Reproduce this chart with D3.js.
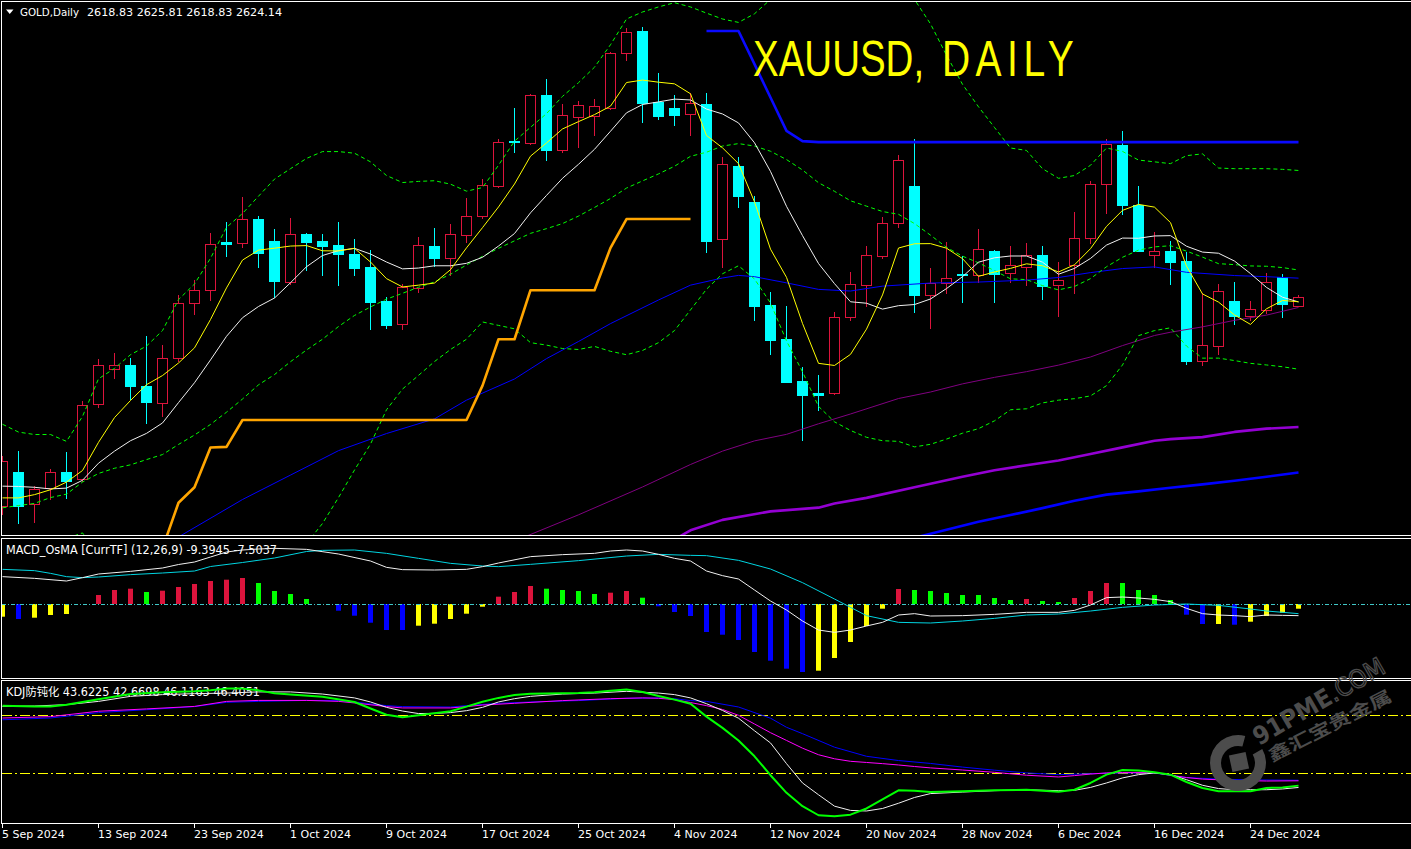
<!DOCTYPE html>
<html><head><meta charset="utf-8">
<script src="https://cdn.jsdelivr.net/npm/d3@7"></script>
<style>html,body{margin:0;padding:0;background:#000;overflow:hidden}</style>
</head><body>
<svg id="c" width="1411" height="849"></svg>
<script>
// ---------- DATA ----------
const tickLabels = ["5 Sep 2024","13 Sep 2024","23 Sep 2024","1 Oct 2024","9 Oct 2024","17 Oct 2024","25 Oct 2024","4 Nov 2024","12 Nov 2024","20 Nov 2024","28 Nov 2024","6 Dec 2024","16 Dec 2024","24 Dec 2024"];
const tickIdx = [0,6,12,18,24,30,36,42,48,54,60,66,72,78];

const open = [2495.9,2516.6,2497.0,2506.9,2516.6,2512.4,2558.5,2580.1,2582.4,2569.5,2559.3,2586.8,2620.4,2628.5,2657.8,2657.2,2672.2,2658.7,2633.3,2662.9,2658.7,2656.4,2650.7,2642.8,2621.9,2607.5,2629.7,2655.7,2648.1,2662.3,2674.3,2692.5,2720.2,2718.7,2748.3,2714.7,2735.0,2735.2,2740.5,2773.9,2787.6,2744.1,2740.3,2736.5,2742.8,2659.7,2704.6,2682.6,2619.4,2598.4,2572.9,2565.5,2565.3,2612.0,2631.8,2649.8,2669.5,2692.5,2625.3,2632.7,2638.4,2637.6,2652.4,2639.2,2642.6,2650.2,2631.6,2643.7,2660.8,2693.6,2717.7,2680.9,2650.4,2652.6,2646.4,2585.3,2594.4,2621.9,2612.8,2616.2,2636.7,2618.83];
const high = [2527.0,2529.7,2508.0,2518.8,2529.3,2560.4,2586.4,2590.0,2586.8,2600.6,2594.6,2625.3,2634.6,2663.8,2670.1,2685.7,2673.9,2666.1,2672.9,2663.8,2662.9,2670.3,2660.0,2653.2,2624.4,2632.1,2661.2,2666.7,2669.3,2685.1,2696.7,2721.3,2740.3,2749.0,2758.3,2742.8,2744.7,2746.0,2774.5,2789.3,2790.2,2761.9,2748.3,2749.8,2749.6,2710.3,2710.3,2686.2,2627.4,2618.5,2581.3,2576.7,2615.1,2639.7,2655.9,2673.5,2711.5,2721.1,2642.2,2657.8,2649.4,2666.1,2653.0,2655.5,2657.4,2655.7,2645.6,2676.4,2695.5,2721.5,2726.3,2692.5,2664.2,2658.7,2652.1,2626.6,2632.3,2633.5,2621.9,2639.0,2638.4,2625.81];
const low = [2491.0,2485.4,2486.0,2500.1,2501.2,2511.1,2556.6,2574.8,2561.5,2547.1,2551.3,2585.1,2613.7,2622.3,2649.8,2654.9,2643.0,2624.4,2632.1,2641.1,2638.0,2631.8,2637.6,2604.4,2605.2,2604.4,2627.6,2643.3,2638.0,2658.3,2673.1,2691.9,2713.4,2718.3,2708.2,2713.5,2716.4,2723.8,2739.5,2770.1,2731.8,2733.3,2730.1,2724.0,2652.1,2642.8,2679.8,2610.5,2589.6,2572.0,2536.7,2554.7,2565.0,2610.5,2618.5,2648.5,2667.6,2615.4,2605.2,2627.0,2621.1,2633.7,2621.5,2633.7,2631.8,2623.4,2612.8,2627.0,2657.6,2675.6,2675.2,2652.4,2642.8,2632.3,2583.4,2582.6,2589.6,2608.0,2609.9,2614.7,2611.8,2618.83];
const close = [2523.4,2495.9,2506.5,2516.6,2511.6,2558.3,2582.4,2582.4,2569.5,2559.8,2586.6,2620.9,2628.5,2656.6,2657.0,2672.0,2651.5,2634.4,2663.3,2658.3,2655.9,2650.9,2642.4,2621.5,2607.3,2630.6,2656.4,2648.5,2662.9,2673.9,2692.9,2719.6,2719.4,2748.1,2714.5,2735.8,2742.0,2741.3,2773.9,2786.8,2743.7,2735.4,2736.3,2743.2,2658.9,2705.8,2686.6,2619.0,2598.2,2572.4,2564.4,2564.2,2612.2,2632.1,2650.0,2669.5,2708.2,2625.3,2632.7,2635.9,2637.6,2653.6,2638.6,2643.9,2650.0,2631.2,2634.6,2660.6,2693.6,2718.3,2680.5,2652.8,2652.4,2645.8,2585.1,2594.9,2627.8,2612.8,2616.8,2633.3,2620.2,2624.14];

const ma5 = [2501,2501,2503,2506,2510.7,2517.8,2535.1,2550.3,2560.8,2570.5,2576.1,2583.8,2593.1,2610.5,2629.9,2647.0,2653.1,2654.3,2655.6,2655.9,2652.7,2652.6,2654.2,2645.8,2635.6,2630.5,2631.6,2632.9,2641.1,2654.5,2666.9,2679.6,2693.7,2710.8,2718.9,2727.5,2732.0,2736.3,2741.5,2756.0,2757.5,2756.2,2755.2,2749.1,2723.5,2715.9,2706.2,2682.7,2653.7,2636.4,2608.1,2583.6,2582.3,2589.1,2604.6,2625.6,2654.4,2657.0,2657.1,2654.3,2647.9,2637.0,2639.7,2641.9,2644.7,2643.5,2639.7,2644.1,2654.0,2667.7,2677.5,2681.2,2679.5,2670.0,2643.3,2626.2,2621.2,2613.3,2607.5,2617.1,2622.2,2621.4];
const ma10 = [2508.2,2508.0,2507.5,2506.5,2507.0,2511.8,2522.3,2529.7,2536.1,2540.6,2547.0,2559.5,2571.7,2585.7,2600.2,2611.6,2618.5,2623.7,2633.1,2642.9,2649.8,2652.8,2654.2,2650.7,2645.8,2641.6,2642.1,2643.5,2643.5,2645.0,2648.7,2655.6,2663.3,2676.0,2686.7,2697.2,2705.8,2715.0,2726.1,2737.4,2742.5,2744.1,2745.8,2745.3,2739.7,2736.7,2731.2,2719.0,2701.4,2680.0,2662.0,2644.9,2632.5,2621.4,2620.5,2616.9,2619.0,2619.7,2623.1,2629.5,2636.8,2645.7,2648.4,2649.5,2649.5,2645.7,2638.3,2641.9,2648.0,2656.2,2660.5,2660.4,2661.8,2662.0,2655.5,2651.9,2651.2,2646.4,2638.7,2630.2,2624.2,2621.3];
const bbUpper = [2546.2,2541.4,2539.9,2539.9,2535.7,2551.0,2574.1,2580.5,2588.9,2594.2,2603.7,2622.7,2632.3,2648.1,2667.1,2675.6,2686.2,2696.7,2703.1,2709.4,2713.6,2713.6,2712.6,2707.3,2698.9,2694.6,2695.3,2695.7,2693.6,2689.3,2691.5,2705.2,2720.0,2728.5,2736.9,2747.5,2755.9,2765.4,2779.2,2795.0,2799.3,2802.4,2805.0,2802.4,2798.6,2795.0,2792.9,2798.2,2807,2820,2826,2832,2831,2824,2822,2818,2814,2807,2792,2772.8,2754.9,2741.1,2728.4,2715.8,2714.3,2703.1,2697.2,2698.9,2705.2,2715.8,2713.7,2708.4,2707.3,2706.2,2711.1,2712.2,2703.5,2703.1,2703.1,2703.1,2702.7,2702.0];
const bbMid = [2494.9,2496.3,2497.6,2501.2,2503.3,2510.7,2516.0,2519.2,2521.3,2524.5,2527.6,2533.8,2539.6,2546.1,2553.6,2561.7,2570.4,2576.7,2584.6,2591.8,2598.4,2606.2,2613.0,2618.2,2623.0,2626.6,2630.3,2633.6,2638.3,2644.0,2649.3,2654.2,2658.8,2663.4,2666.3,2669.4,2674.0,2679.3,2684.8,2691.2,2695.6,2699.9,2704.6,2710.7,2713.2,2717.0,2718.5,2717.0,2713.8,2708.7,2702.3,2694.5,2689.2,2683.4,2680.1,2676.8,2675.1,2669.4,2662.3,2654.8,2649.4,2645.3,2640.5,2635.5,2635.0,2631.3,2628.7,2630.8,2635.6,2642.9,2648.7,2653.1,2655.1,2655.8,2652.5,2648.8,2644.8,2644.2,2643.4,2643.2,2642.4,2640.9];
const bbLower = [2444,2451,2458,2468,2476,2479.5,2466,2458,2454,2455,2456,2447,2448,2447,2443,2443,2445,2447,2456,2473,2485.3,2501.2,2518.1,2534.0,2555.1,2567.8,2576.2,2584.7,2592.1,2598.4,2609.0,2606.9,2604.8,2596.3,2594.8,2592.7,2592.1,2594.0,2591.0,2588.9,2591.5,2596.3,2603.7,2616.4,2629.1,2638.6,2643.5,2635.4,2620.6,2597.4,2578.4,2557.2,2547.7,2542.4,2538.2,2536.1,2535.7,2532.3,2533.9,2537.1,2540.7,2543.5,2548.3,2555.1,2555.7,2559.3,2561.0,2561.9,2563.6,2569.9,2582.6,2600.6,2603.7,2605.4,2594.2,2586.8,2586.8,2585.3,2583.6,2582.6,2581.5,2580.0];

const blueMaIdx = [10,11,15,18,21,24,27,29,32,34,36,38,41,43,45,46,47,49,51,53,55,58,61,64,66,68,70,72,74,77,79,81];
const blueMaVal = [2472,2477,2500,2515,2530,2540.5,2549.5,2561,2574,2586.5,2597,2608,2622.5,2631.6,2636,2637.6,2636.8,2633,2629,2628,2631,2632.9,2633.5,2634.7,2636.3,2639.3,2641.8,2642.8,2639.5,2637.5,2636.8,2635.9];
const purpleThinIdx = [32,36,40,43,45,47,49,51,53,56,58,60,62,64,66,68,70,72,73,75,77,79,81];
const purpleThinVal = [2474.5,2490.6,2507.7,2521.5,2529.7,2536,2540,2546.5,2552.5,2562,2566,2571,2575,2578.5,2582.5,2587.5,2594.5,2600.7,2602.7,2606,2610,2613.2,2617.9];
const purpleThickIdx = [42,43,45,48,51,52,54,57,58,60,62,64,66,68,70,72,73,75,77,79,81];
const purpleThickVal = [2475.5,2481.1,2487.5,2492.7,2495,2497.5,2501.0,2507.5,2509.7,2514,2518,2521,2524,2528,2532,2536.1,2537.1,2538.3,2541.5,2543.5,2544.5];
const blueThickIdx = [57,59,61,63,65,67,69,71,73,75,77,79,81];
const blueThickVal = [2476.5,2481.5,2486.3,2490.5,2494.7,2499.2,2503.0,2505.0,2507.2,2509.3,2511.5,2514,2516.6];
const orangeIdx = [10,11,12,13,14,15,29,30,31,32,33,37,38,39,43];
const orangeVal = [2470,2498.0,2507.5,2531.9,2532.3,2548.8,2548.8,2569.9,2598.4,2598.4,2628.5,2628.5,2654.5,2672.2,2672.2];
const blueStepIdx = [44,46,47,48,49,50,51,81];
const blueStepVal = [2787.6,2787.6,2767.3,2746.8,2726.3,2720.0,2719.4,2719.4];

// MACD_OsMA panel
const osma = [-2.54,-3.0,-2.74,-2.2,-2.0,0,1.8,2.8,3.06,2.4,2.66,3.4,4.0,4.6,4.86,5.2,4.2,2.6,2.0,1.0,0,-1.34,-2.34,-3.74,-5.2,-5.2,-4.34,-3.94,-3.0,-1.94,-0.54,1.46,2.4,3.6,3.06,2.8,2.6,2.0,2.26,2.6,1.26,-0.46,-1.6,-2.4,-5.6,-6.14,-7.2,-9.6,-11.34,-12.94,-13.6,-13.34,-10.8,-7.6,-4.4,-0.94,3.0,2.8,2.6,2.2,1.8,1.8,1.2,0.8,1.0,0.6,0.4,1.2,2.6,4.2,4.2,2.8,1.8,0.8,-2.14,-4.0,-4.0,-4.14,-3.54,-2.4,-1.74,-0.94];
const osmaColor = ['y','b','y','y','y','r','r','r','r','g','r','r','r','r','r','r','g','g','g','g','g','b','b','b','b','b','y','y','y','y','y','r','r','r','g','g','g','g','r','r','g','b','b','b','b','b','b','b','b','b','b','y','y','y','y','y','r','g','g','g','g','g','g','g','r','g','g','r','r','r','g','g','g','g','b','b','y','b','y','y','y','y'];
const macdWhiteIdx = [0,2,4,5,6,8,10,11,12,13,14,15,16,17,19,21,23,24,25,27,29,30,31,33,35,37,38,39,40,41,42,43,44,45,46,47,48,49,50,51,52,53,54,55,56,57,58,60,62,64,66,67,68,69,70,71,72,73,74,75,76,77,78,79,80,81];
const macdWhiteVal = [5.47,5.13,4.6,5.27,6.0,6.53,7.2,7.9,8.4,9.4,10.4,10.8,11.0,11.13,10.93,10.0,8.6,7.33,6.87,6.8,6.93,7.47,8.2,9.47,9.87,10.13,10.6,10.8,10.6,9.93,9.13,8.6,6.6,5.67,5.0,2.8,0.6,-1.2,-3.4,-5.2,-5.67,-5.2,-4.4,-3.67,-2.2,-1.93,-2.4,-2.33,-2.07,-1.67,-1.67,-1.27,-0.2,1.27,1.4,1.2,0.93,0.47,-0.87,-1.93,-2.2,-2.33,-2.53,-2.2,-2.27,-2.33];
const macdCyanIdx = [0,2,3,4,5,6,8,10,12,13,15,17,19,20,22,24,26,28,30,31,33,36,39,41,43,44,46,48,50,52,54,56,58,60,62,64,66,68,70,72,74,76,78,79,81];
const macdCyanVal = [6.93,6.67,6.13,5.47,5.27,5.4,5.87,6.2,6.6,7.5,8.3,9.2,10.5,10.73,10.8,10.13,9.13,8.13,7.6,7.47,7.93,8.67,9.6,9.93,9.73,9.67,8.73,7.0,4.27,1.0,-2.33,-3.67,-3.8,-3.4,-2.87,-2.2,-2.0,-1.4,-0.67,-0.2,0.0,-0.27,-1.0,-1.4,-1.93];

// KDJ panel
const kdjGreenIdx = [0,2,3,4,6,8,10,12,13,14,15,16,17,18,20,22,23,24,25,26,28,29,30,31,32,33,36,37,38,39,40,41,42,43,44,45,46,47,48,49,50,51,52,53,54,55,56,57,58,60,62,64,66,67,68,69,70,71,72,73,74,75,76,77,78,79,80,81];
const kdjGreenVal = [85.0,84.5,84.5,85.5,88.3,91.0,91.9,92.4,92.9,93.8,93.8,92.9,91.4,90.7,89.6,86.9,83.5,80.3,79.0,80.0,82.1,84.5,87.0,89.0,90.5,91.2,91.5,91.9,92.7,93.3,92.1,90.0,88.1,86.0,79.3,73.5,67.0,58.8,49.0,39.9,33.0,28.3,27.8,28.6,31.8,36.5,41.2,41.0,40.3,40.7,41.2,41.5,40.5,41.5,45.0,49.3,51.7,51.5,50.5,49.3,45.5,42.4,40.7,40.7,40.7,42.4,42.7,43.6225];
const kdjWhiteIdx = [0,2,4,6,8,10,12,14,16,18,20,22,23,24,25,26,27,28,29,30,31,32,33,35,37,39,41,42,43,44,45,46,47,48,49,50,51,52,53,54,55,56,57,58,60,62,64,66,67,68,69,70,71,72,73,74,75,76,77,78,79,80,81];
const kdjWhiteVal = [84.6,84.8,85.5,87.2,89.8,90.7,91.2,91.5,92.1,92.1,91.0,89.0,86.9,84.1,82.2,80.9,81.0,81.4,82.4,84.1,86.9,88.6,89.8,91.0,91.5,92.4,91.5,90.7,89.0,86.0,82.5,78.5,72.0,65.7,55.0,45.0,38.9,33.0,30.8,30.5,31.8,34.5,37.5,39.5,40.3,41.0,41.5,41.0,41.2,42.7,45.0,47.6,49.3,50.2,49.3,46.7,43.8,42.1,41.5,41.5,41.5,41.9,42.6698];
const kdjMagIdx = [0,3,6,9,12,14,16,19,21,22,24,25,28,29,30,32,35,38,40,41,42,43,44,45,46,47,48,49,50,51,52,53,54,55,56,57,58,60,62,64,66,67,68,69,70,72,73,74,75,77,79,81];
const kdjMagVal = [78.6,79.3,82.1,83.3,84.6,87.2,87.7,87.7,87.2,86.4,84.5,83.8,83.8,84.5,85.3,86.2,87.6,88.6,89.0,88.8,88.1,86.6,85.0,83.0,80.0,75.5,71.0,67.0,63.0,59.6,57.5,56.2,55.6,55.0,54.3,53.5,52.8,51.7,50.5,49.0,48.1,48.8,49.6,50.2,50.4,50.3,49.0,47.8,47.0,46.3,46.0,46.1163];
const kdjBlueIdx = [0,3,6,9,12,14,16,19,21,22,23,24,25,28,29,31,33,36,39,41,42,43,44,46,48,49,50,52,54,56,58,60,62,64,66,68,70,72,74,76,78,81];
const kdjBlueVal = [77.7,78.6,81.4,82.9,84.5,86.7,87.2,87.7,87.6,86.9,85.9,85.0,84.5,84.3,85.0,86.2,86.9,87.6,88.8,89.0,88.6,87.6,87.2,84.3,78.5,73.8,70.5,63.5,58.8,56.6,55.1,53.2,51.6,50.2,49.3,49.8,50.2,50.1,47.8,47.0,46.6,46.4051];
const kdjLevels = [50, 80];

// ---------- DRAWING ----------
const W = 1411, H = 849;
const svg = d3.select('#c');
svg.append('rect').attr('width', W).attr('height', H).attr('fill', '#000');
const defs = svg.append('defs');
defs.append('clipPath').attr('id','cm').append('rect').attr('x',2).attr('y',2).attr('width',W).attr('height',533);
defs.append('clipPath').attr('id','cd').append('rect').attr('x',2).attr('y',539).attr('width',W).attr('height',139);
defs.append('clipPath').attr('id','ck').append('rect').attr('x',2).attr('y',681).attr('width',W).attr('height',142);

const x = d3.scaleLinear().domain([0, 81]).range([2, 1298]);
const cx = i => x(i) + 0.5;
const yMain = d3.scaleLinear().domain([2477.6, 2806.66]).range([536, 0]);
const yMacd = d3.scaleLinear().domain([-14.8, 13]).range([678, 539]);
const yKdj = d3.scaleLinear().domain([24.03, 98.0]).range([823.5, 680.5]);

const RED = '#dc143c', CYAN = '#00ffff';
const FONT = "'DejaVu Sans','Noto Sans CJK SC',sans-serif";

const lineFull = (arr, ys) => d3.line().x((d, i) => cx(i)).y(d => ys(d))(arr);
const lineSparse = (idx, val, ys) => d3.line()(idx.map((k, j) => [cx(k), ys(val[j])]));

// ---- main panel ----
const gm = svg.append('g').attr('clip-path', 'url(#cm)');
const bars = d3.range(open.length);
bars.forEach(i => {
  const up = close[i] > open[i];
  const col = up ? RED : CYAN;
  gm.append('line').attr('x1', cx(i)).attr('x2', cx(i))
    .attr('y1', Math.round(yMain(high[i]))).attr('y2', Math.round(yMain(low[i])) + 1)
    .attr('stroke', col).attr('stroke-width', 1);
  const yt = Math.round(yMain(Math.max(open[i], close[i])));
  const yb = Math.round(yMain(Math.min(open[i], close[i])));
  if (up) {
    gm.append('rect').attr('x', x(i) - 4.5).attr('y', yt + 0.5).attr('width', 10)
      .attr('height', Math.max(1, yb - yt)).attr('fill', '#000').attr('stroke', col).attr('stroke-width', 1);
  } else {
    gm.append('rect').attr('x', x(i) - 5).attr('y', yt).attr('width', 11)
      .attr('height', Math.max(2, yb - yt + 1)).attr('fill', col);
  }
});

const addPath = (g, d, color, w, dash) => {
  const p = g.append('path').attr('d', d).attr('fill', 'none').attr('stroke', color).attr('stroke-width', w)
    .attr('stroke-linejoin', 'round');
  if (dash) p.attr('stroke-dasharray', dash);
  return p;
};
addPath(gm, lineSparse(purpleThickIdx, purpleThickVal, yMain), '#9400d3', 2.6);
addPath(gm, lineSparse(blueThickIdx, blueThickVal, yMain), '#0000ff', 2.6);
addPath(gm, lineSparse(purpleThinIdx, purpleThinVal, yMain), '#800080', 1);
addPath(gm, lineSparse(blueMaIdx, blueMaVal, yMain), '#0000ff', 1);
addPath(gm, lineFull(bbUpper, yMain), '#00ff00', 1, '4,3');
addPath(gm, lineFull(bbMid, yMain), '#00ff00', 1, '4,3');
addPath(gm, lineFull(bbLower, yMain), '#00ff00', 1, '4,3');
addPath(gm, lineFull(ma10, yMain), '#f0f0f0', 1);
addPath(gm, lineFull(ma5, yMain), '#ffff00', 1);
addPath(gm, lineSparse(orangeIdx, orangeVal, yMain), '#ffa500', 2.6);
addPath(gm, lineSparse(blueStepIdx, blueStepVal, yMain), '#0a0aff', 2.6);

// header
svg.append('path').attr('d', 'M6,9.5 L13.5,9.5 L9.75,14 Z').attr('fill', '#fff');
svg.append('text').attr('x', 20).attr('y', 16).attr('fill', '#fff').attr('font-family', FONT).attr('font-size', 11)
  .attr('textLength', 59).attr('lengthAdjust', 'spacingAndGlyphs').text('GOLD,Daily');
svg.append('text').attr('x', 87).attr('y', 16).attr('fill', '#fff').attr('font-family', FONT).attr('font-size', 11)
  .attr('textLength', 195).attr('lengthAdjust', 'spacingAndGlyphs').text('2618.83 2625.81 2618.83 2624.14');

// big title
svg.append('text').attr('transform', 'translate(753,76) scale(0.77,1)').attr('fill', '#ffff00')
  .attr('font-family', "'Liberation Sans',Arial,sans-serif").attr('font-size', 50).text('XAUUSD,');
svg.append('text').attr('transform', 'translate(942,76) scale(0.78,1)').attr('fill', '#ffff00')
  .attr('font-family', "'Liberation Sans',Arial,sans-serif").attr('font-size', 50).attr('letter-spacing', 7).text('DAILY');

// ---- MACD panel ----
const gd = svg.append('g').attr('clip-path', 'url(#cd)');
gd.append('text').attr('x', 6).attr('y', 554).attr('fill', '#fff').attr('font-family', FONT).attr('font-size', 11.5)
  .attr('textLength', 271).attr('lengthAdjust', 'spacingAndGlyphs').text('MACD_OsMA [CurrTF] (12,26,9) -9.3945 -7.5037');
const cmap = { r: RED, g: '#00ff00', b: '#0000ff', y: '#ffff00' };
const y0 = yMacd(0);
osma.forEach((v, i) => {
  if (v === 0) return;
  const yv = yMacd(v);
  gd.append('rect').attr('x', x(i) - 2).attr('width', 5)
    .attr('y', Math.min(yv, y0)).attr('height', Math.abs(yv - y0)).attr('fill', cmap[osmaColor[i]]);
});
gd.append('line').attr('x1', 2).attr('x2', W).attr('y1', y0 + 0.5).attr('y2', y0 + 0.5)
  .attr('stroke', '#40c8c8').attr('stroke-width', 1).attr('stroke-dasharray', '4,2,1,2');
addPath(gd, lineSparse(macdCyanIdx, macdCyanVal, yMacd), '#00d4e0', 1);
addPath(gd, lineSparse(macdWhiteIdx, macdWhiteVal, yMacd), '#f0f0f0', 1);

// ---- KDJ panel ----
const gk = svg.append('g').attr('clip-path', 'url(#ck)');
gk.append('text').attr('x', 6).attr('y', 696).attr('fill', '#fff').attr('font-family', FONT).attr('font-size', 11.5)
  .attr('textLength', 254).attr('lengthAdjust', 'spacingAndGlyphs').text('KDJ防钝化 43.6225 42.6698 46.1163 46.4051');
kdjLevels.forEach(l => {
  gk.append('line').attr('x1', 2).attr('x2', W).attr('y1', Math.round(yKdj(l)) + 0.5).attr('y2', Math.round(yKdj(l)) + 0.5)
    .attr('stroke', '#ffff00').attr('stroke-width', 1).attr('stroke-dasharray', '10,3,2,3');
});
addPath(gk, lineSparse(kdjBlueIdx, kdjBlueVal, yKdj), '#0000ff', 1);
addPath(gk, lineSparse(kdjMagIdx, kdjMagVal, yKdj), '#ff00ff', 1);
addPath(gk, lineSparse(kdjWhiteIdx, kdjWhiteVal, yKdj), '#f0f0f0', 1);
addPath(gk, lineSparse(kdjGreenIdx, kdjGreenVal, yKdj), '#00ff00', 2);

// ---- borders ----
const bc = '#ffffff';
[1.5, 535.5, 538.5, 678.5, 680.5, 823.5].forEach(yy => {
  svg.append('line').attr('x1', 1).attr('x2', W).attr('y1', yy).attr('y2', yy).attr('stroke', bc).attr('stroke-width', 1);
});
[[1, 536], [538, 679], [680, 824]].forEach(([a, b]) => {
  svg.append('line').attr('x1', 1.5).attr('x2', 1.5).attr('y1', a).attr('y2', b).attr('stroke', bc).attr('stroke-width', 1);
});

// ---- date axis ----
tickIdx.forEach((k, j) => {
  svg.append('line').attr('x1', cx(k)).attr('x2', cx(k)).attr('y1', 824).attr('y2', 828).attr('stroke', bc);
  svg.append('text').attr('x', x(k)).attr('y', 838).attr('fill', '#fff').attr('font-family', FONT)
    .attr('font-size', 11).text(tickLabels[j]);
});

// ---- watermark ----
const wm = svg.append('g').attr('fill', '#4c4c4c');
wm.append('path').attr('transform', 'translate(1238,763)')
  .attr('d', d3.arc().innerRadius(17).outerRadius(28).startAngle(Math.PI / 3).endAngle(Math.PI * 2 + Math.PI / 12)());
wm.append('rect').attr('x', -8.5).attr('y', -8.5).attr('width', 17).attr('height', 17)
  .attr('transform', 'translate(1239,762) rotate(-12)');
const t1 = wm.append('text').attr('transform', 'translate(1259,746) rotate(-30)')
  .attr('font-family', FONT).attr('font-weight', 'bold').attr('font-size', 25)
  .attr('textLength', 148).attr('lengthAdjust', 'spacingAndGlyphs');
t1.append('tspan').text('91PME');
t1.append('tspan').attr('fill', 'none').attr('stroke', '#4c4c4c').attr('stroke-width', 1.3).attr('font-weight', 'normal').text('.COM');
wm.append('text').attr('transform', 'translate(1272,762) rotate(-27)')
  .attr('font-family', "'Noto Sans CJK SC',sans-serif").attr('font-weight', 'bold').attr('font-size', 17)
  .attr('textLength', 136).attr('lengthAdjust', 'spacingAndGlyphs').text('鑫汇宝贵金属');
</script>
</body></html>
